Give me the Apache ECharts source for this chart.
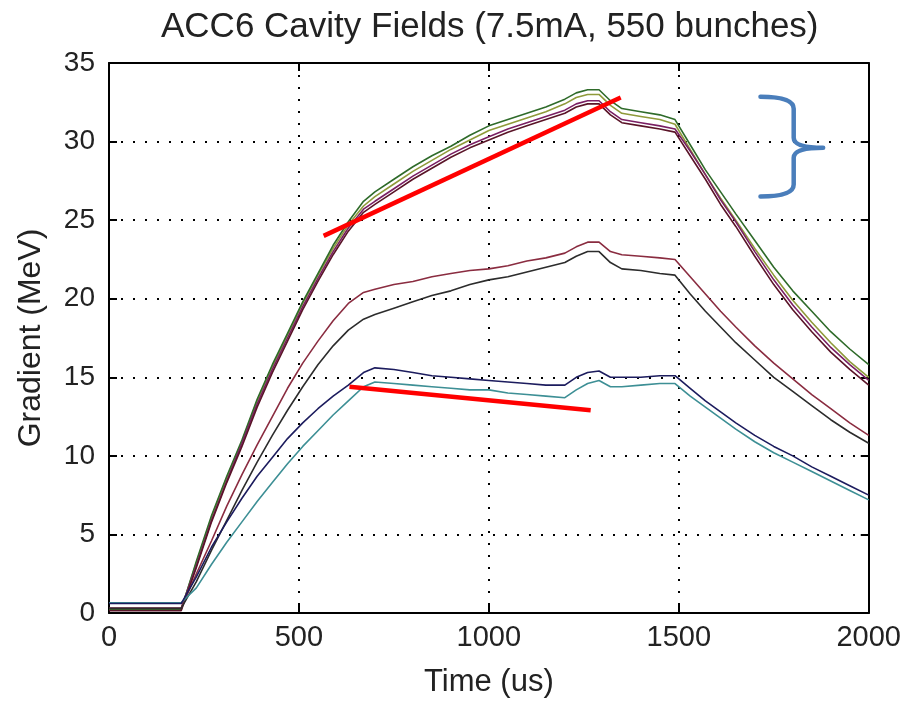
<!DOCTYPE html>
<html>
<head>
<meta charset="utf-8">
<script src="https://cdn.jsdelivr.net/npm/echarts@6/dist/echarts.min.js"></script>
<style>
html,body{margin:0;padding:0;background:#fff;}
#chart{width:904px;height:703px;}
</style>
</head>
<body>
<div id="chart"></div>
<script>
// ---- data ----
const titleText = 'ACC6 Cavity Fields (7.5mA, 550 bunches)';
const xTicks = [0, 500, 1000, 1500, 2000];
const yTicks = [0, 5, 10, 15, 20, 25, 30, 35];

const timeUs = [0, 190, 230, 270, 310, 350, 390, 430, 470, 510, 550, 590, 630, 670, 700, 750, 800, 850, 900, 950, 1000, 1050, 1100, 1150, 1200, 1230, 1260, 1290, 1320, 1350, 1400, 1450, 1490, 1530, 1570, 1610, 1650, 1700, 1750, 1800, 1850, 1900, 1950, 2000];

const cavGreen  = [0.2, 0.2, 3.3, 6.2, 8.7, 11.0, 13.6, 15.8, 17.8, 19.8, 21.6, 23.4, 24.9, 26.2, 26.8, 27.6, 28.4, 29.1, 29.7, 30.4, 31.0, 31.4, 31.8, 32.2, 32.7, 33.1, 33.3, 33.3, 32.6, 32.1, 31.9, 31.7, 31.4, 29.8, 28.2, 26.8, 25.4, 23.7, 22.0, 20.5, 19.2, 17.9, 16.8, 15.8];
const cavOlive  = [0.25, 0.25, 3.2, 6.1, 8.6, 10.9, 13.5, 15.7, 17.7, 19.7, 21.5, 23.2, 24.7, 25.9, 26.5, 27.3, 28.1, 28.8, 29.5, 30.1, 30.7, 31.1, 31.5, 31.9, 32.4, 32.8, 33.0, 33.0, 32.3, 31.8, 31.6, 31.4, 31.1, 29.5, 27.9, 26.4, 25.0, 23.2, 21.5, 19.9, 18.5, 17.2, 16.0, 15.0];
const cavPurple = [0.3, 0.3, 3.0, 5.9, 8.4, 10.8, 13.3, 15.5, 17.5, 19.5, 21.3, 23.0, 24.5, 25.7, 26.2, 27.0, 27.8, 28.5, 29.2, 29.8, 30.3, 30.8, 31.2, 31.6, 32.0, 32.4, 32.6, 32.6, 31.9, 31.4, 31.2, 31.0, 30.8, 29.4, 27.9, 26.3, 24.9, 23.0, 21.2, 19.6, 18.2, 16.9, 15.8, 14.8];
const cavMaroon = [0.15, 0.15, 2.9, 5.8, 8.3, 10.6, 13.1, 15.3, 17.3, 19.3, 21.1, 22.8, 24.3, 25.5, 26.0, 26.8, 27.6, 28.3, 29.0, 29.6, 30.1, 30.6, 31.0, 31.4, 31.8, 32.2, 32.4, 32.4, 31.7, 31.2, 31.0, 30.8, 30.6, 29.1, 27.6, 26.0, 24.6, 22.7, 20.9, 19.3, 17.9, 16.6, 15.5, 14.5];
const cavRose   = [0.3, 0.3, 2.5, 4.6, 6.8, 8.8, 10.7, 12.5, 14.3, 15.9, 17.3, 18.6, 19.7, 20.4, 20.6, 20.9, 21.1, 21.4, 21.6, 21.8, 21.9, 22.1, 22.4, 22.6, 22.9, 23.3, 23.6, 23.6, 23.0, 22.8, 22.7, 22.6, 22.5, 21.4, 20.3, 19.2, 18.2, 17.0, 15.9, 14.9, 13.9, 13.0, 12.1, 11.3];
const cavGray   = [0.3, 0.3, 2.0, 4.0, 5.9, 7.8, 9.6, 11.3, 12.9, 14.4, 15.8, 17.0, 18.0, 18.7, 19.0, 19.4, 19.8, 20.2, 20.5, 20.9, 21.2, 21.4, 21.7, 22.0, 22.3, 22.7, 23.0, 23.0, 22.3, 21.9, 21.8, 21.6, 21.5, 20.3, 19.2, 18.2, 17.2, 16.1, 15.0, 14.1, 13.2, 12.3, 11.5, 10.8];
const cavNavy   = [0.6, 0.6, 2.3, 4.2, 5.8, 7.3, 8.7, 9.9, 11.1, 12.1, 13.0, 13.8, 14.5, 15.3, 15.6, 15.5, 15.3, 15.1, 15.0, 14.9, 14.8, 14.7, 14.6, 14.5, 14.5, 15.0, 15.3, 15.4, 15.0, 15.0, 15.0, 15.1, 15.1, 14.3, 13.5, 12.8, 12.1, 11.3, 10.6, 10.0, 9.3, 8.7, 8.1, 7.5];
const cavCyan   = [0.65, 0.65, 1.6, 3.1, 4.5, 5.8, 7.1, 8.3, 9.5, 10.6, 11.6, 12.6, 13.5, 14.4, 14.7, 14.6, 14.5, 14.4, 14.3, 14.2, 14.2, 14.0, 13.9, 13.8, 13.7, 14.2, 14.6, 14.8, 14.4, 14.4, 14.5, 14.6, 14.6, 13.8, 13.1, 12.4, 11.7, 10.9, 10.2, 9.6, 9.0, 8.4, 7.8, 7.2];

// annotation lines (data coordinates)
const redLineUpper = [[565, 24.0], [1347, 32.8]];
const redLineLower = [[633, 14.4], [1268, 12.9]];
const braceAnchor = [[1715, 32.85, 26.5, 1880, 29.6]]; // x, yTop, yBottom, tipX, tipY

const seriesDefs = [
  {name: 'C1', values: cavOlive,  color: '#8f9a3a'},
  {name: 'C2', values: cavGreen,  color: '#2f6b2a'},
  {name: 'C3', values: cavPurple, color: '#7a1f63'},
  {name: 'C4', values: cavMaroon, color: '#5a1428'},
  {name: 'C5', values: cavRose,   color: '#8a2c40'},
  {name: 'C6', values: cavGray,   color: '#2c2c2c'},
  {name: 'C7', values: cavCyan,   color: '#3d8f95'},
  {name: 'C8', values: cavNavy,   color: '#1c1c5e'}
];

const FONT = 'Liberation Sans';
const TEXT_COLOR = '#222222';
const chart = echarts.init(document.getElementById('chart'), null, {renderer: 'canvas'});

const series = seriesDefs.map(d => ({
  name: d.name,
  type: 'line',
  xAxisIndex: 0, yAxisIndex: 0,
  data: timeUs.map((t, i) => [t, d.values[i]]),
  showSymbol: false,
  symbol: 'none',
  lineStyle: {color: d.color, width: 1.6},
  z: 3,
  silent: true
}));

series.push({
  type: 'line', data: redLineUpper, showSymbol: false, symbol: 'none',
  lineStyle: {color: '#ff0000', width: 4.5}, z: 5, silent: true
});
series.push({
  type: 'line', data: redLineLower, showSymbol: false, symbol: 'none',
  lineStyle: {color: '#ff0000', width: 4.5}, z: 5, silent: true
});
series.push({
  type: 'custom',
  data: braceAnchor,
  z: 6,
  silent: true,
  renderItem: function (params, api) {
    const top = api.coord([api.value(0), api.value(1)]);
    const bot = api.coord([api.value(0), api.value(2)]);
    const tip = api.coord([api.value(3), api.value(4)]);
    const x0 = top[0], yT = top[1], yB = bot[1], xt = tip[0], ym = tip[1];
    const xm = x0 + (xt - x0) * 0.53;
    const p = [
      'M', x0, yT,
      'Q', xm, yT, xm, yT + 12,
      'L', xm, ym - 10,
      'Q', xm, ym, xt, ym,
      'M', xt, ym,
      'Q', xm, ym, xm, ym + 10,
      'L', xm, yB - 12,
      'Q', xm, yB, x0, yB
    ].join(' ');
    return {
      type: 'path',
      shape: {pathData: p},
      style: {fill: null, stroke: '#4a7ebb', lineWidth: 4.5, lineCap: 'round', lineJoin: 'round'}
    };
  }
});

const axisCommonX = {
  type: 'value', min: xTicks[0], max: xTicks[xTicks.length - 1], interval: 500
};
const axisCommonY = {
  type: 'value', min: yTicks[0], max: yTicks[yTicks.length - 1], interval: 5
};
const plainNum = v => String(v);

chart.setOption({
  animation: false,
  backgroundColor: '#ffffff',
  title: {
    text: titleText,
    left: 156, top: 5,
    textStyle: {fontFamily: FONT, fontSize: 35, fontWeight: 'normal', color: TEXT_COLOR}
  },
  grid: {left: 109, right: 33, top: 63, bottom: 85, containLabel: false},
  xAxis: [
    Object.assign({}, axisCommonX, {
      position: 'bottom',
      name: 'Time (us)', nameLocation: 'middle', nameGap: 54,
      nameTextStyle: {fontFamily: FONT, fontSize: 31, color: TEXT_COLOR},
      axisLine: {show: true, onZero: false, lineStyle: {color: '#000', width: 2}},
      axisTick: {show: true, inside: true, length: 8, lineStyle: {color: '#000', width: 2}},
      axisLabel: {fontFamily: FONT, fontSize: 29, color: TEXT_COLOR, margin: 10, formatter: plainNum},
      splitLine: {show: true, lineStyle: {color: '#000', width: 2, type: [2, 10]}}
    }),
    Object.assign({}, axisCommonX, {
      position: 'top',
      axisLine: {show: true, onZero: false, lineStyle: {color: '#000', width: 2}},
      axisTick: {show: true, inside: true, length: 8, lineStyle: {color: '#000', width: 2}},
      axisLabel: {show: false},
      splitLine: {show: false}
    })
  ],
  yAxis: [
    Object.assign({}, axisCommonY, {
      position: 'left',
      name: 'Gradient (MeV)', nameLocation: 'middle', nameGap: 62,
      nameTextStyle: {fontFamily: FONT, fontSize: 32, color: TEXT_COLOR},
      axisLine: {show: true, onZero: false, lineStyle: {color: '#000', width: 2}},
      axisTick: {show: true, inside: true, length: 8, lineStyle: {color: '#000', width: 2}},
      axisLabel: {fontFamily: FONT, fontSize: 28, color: TEXT_COLOR, margin: 14, formatter: plainNum},
      splitLine: {show: true, lineStyle: {color: '#000', width: 2, type: [2, 10]}}
    }),
    Object.assign({}, axisCommonY, {
      position: 'right',
      axisLine: {show: true, onZero: false, lineStyle: {color: '#000', width: 2}},
      axisTick: {show: true, inside: true, length: 8, lineStyle: {color: '#000', width: 2}},
      axisLabel: {show: false},
      splitLine: {show: false}
    })
  ],
  series: series
});
</script>
</body>
</html>
